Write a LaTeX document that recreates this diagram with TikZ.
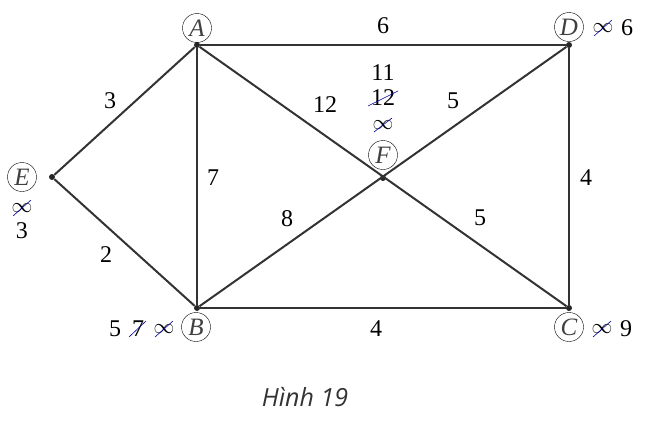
\documentclass[tikz,border=0pt]{standalone}
\usepackage{fontspec}
\setmainfont{Liberation Serif}
\newfontfamily\capfont{Open Sans}
\begin{document}
\begin{tikzpicture}[x=1pt,y=-1pt,font=\fontsize{24}{28}\selectfont]
    \tikzstyle{vertex} = [circle, fill=black!85, inner sep=0pt, minimum size=6pt]
    \tikzstyle{edge} = [line width=2pt, draw=black!80]
    \tikzstyle{vname} = [circle, draw, thin, inner sep=0pt, minimum size=29pt, text=black!75, font=\fontsize{25}{28}\selectfont\itshape]
    \tikzstyle{weight} = [inner sep=1pt]
    \tikzstyle{infty} = [inner sep=0.5pt, font=\fontsize{21}{21}\selectfont]
    \tikzstyle{strike} = [draw=blue!60!black, line width=0.6pt]
    \useasboundingbox (0,0) rectangle (655,437);

    % Vertices
    \node [vertex] (A) at (197,45) {};
    \node [vertex] (D) at (569,45) {};
    \node [vertex] (E) at (52,177) {};
    \node [vertex] (F) at (383,178) {};
    \node [vertex] (B) at (197,308) {};
    \node [vertex] (C) at (569,308) {};

    % Edges
    \draw [edge] (A) -- (D);
    \draw [edge] (A) -- (E);
    \draw [edge] (E) -- (B);
    \draw [edge] (A) -- (B);
    \draw [edge] (A) -- (C);
    \draw [edge] (B) -- (D);
    \draw [edge] (B) -- (C);
    \draw [edge] (D) -- (C);

    % Weights
    \node [weight] (wAD) at (383,26) {6};
    \node [weight] (wAE) at (110,101) {3};
    \node [weight] (wAF) at (325,105) {12};
    \node [weight] (wFD) at (453,101) {5};
    \node [weight] (wAB) at (213,178) {7};
    \node [weight] (wDC) at (586,178) {4};
    \node [weight] (wBF) at (287,219) {8};
    \node [weight] (wFC) at (480,218) {5};
    \node [weight] (wEB) at (106,255) {2};
    \node [weight] (wBC) at (376,329) {4};

    % Vertex names
    \node [vname] (nA) at (197,28) {A};
    \node [vname] (nD) at (569,27) {D};
    \node [vname] (nE) at (22,177) {E};
    \node [vname] (nF) at (383,155) {F};
    \node [vname] (nB) at (196,327) {B};
    \node [vname] (nC) at (569,327) {C};

    % Labels of D
    \node [infty] (dD1) at (603,28) {$\infty$};
    \node [weight] (dD2) at (627,28) {6};
    \draw [strike] ([shift={(-9,8)}]dD1.center) -- ([shift={(9,-8)}]dD1.center);

    % Labels of E
    \node [infty] (dE1) at (22,208) {$\infty$};
    \node [weight] (dE2) at (22,231) {3};
    \draw [strike] ([shift={(-9,8)}]dE1.center) -- ([shift={(9,-8)}]dE1.center);

    % Labels of F
    \node [infty] (dF1) at (383,125) {$\infty$};
    \node [weight] (dF2) at (383,98) {12};
    \node [weight] (dF3) at (383,73) {11};
    \draw [strike] ([shift={(-9,7)}]dF1.center) -- ([shift={(9,-7)}]dF1.center);
    \draw [strike] ([shift={(-15,8)}]dF2.center) -- ([shift={(15,-7)}]dF2.center);

    % Labels of B
    \node [infty] (dB1) at (164,329) {$\infty$};
    \node [weight] (dB2) at (138,329) {7};
    \node [weight] (dB3) at (115,329) {5};
    \draw [strike] ([shift={(-9,8)}]dB1.center) -- ([shift={(9,-8)}]dB1.center);
    \draw [strike] ([shift={(-9,8)}]dB2.center) -- ([shift={(8,-8)}]dB2.center);

    % Labels of C
    \node [infty] (dC1) at (602,329) {$\infty$};
    \node [weight] (dC2) at (626,329) {9};
    \draw [strike] ([shift={(-9,8)}]dC1.center) -- ([shift={(9,-8)}]dC1.center);

    % Caption
    \node [font=\capfont\itshape\fontsize{25}{30}\selectfont, text=black!80] (cap) at (305,397) {Hình 19};

\end{tikzpicture}
\end{document}
